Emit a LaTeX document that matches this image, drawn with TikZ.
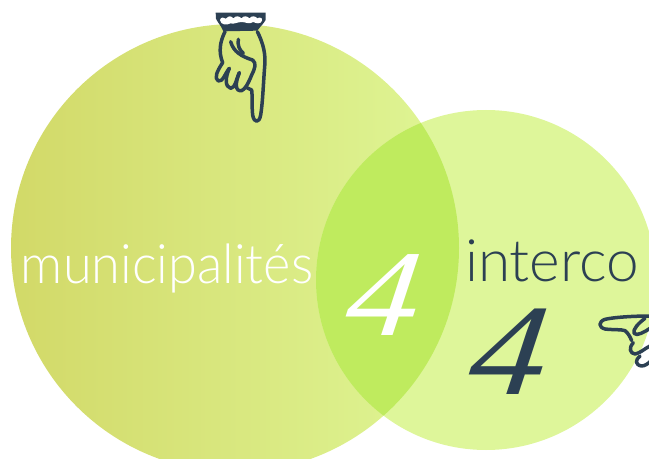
\documentclass[tikz,border=0pt]{standalone}
\usepackage{fontspec}
\setmainfont{Lato}[UprightFont=* Light,ItalicFont=* Light Italic]
\newfontfamily\numfont[FakeStretch=1.18,FakeSlant=0.12]{Liberation Serif}
\newfontfamily\wordfont[FakeStretch=0.96,UprightFont=* Light]{Lato}
\definecolor{bigleft}{HTML}{D2D968}
\definecolor{bigright}{HTML}{DFF696}
\definecolor{smallgreen}{HTML}{DEF69A}
\definecolor{overlapgreen}{HTML}{BFEB5E}
\definecolor{inkblue}{HTML}{2C4053}
\begin{document}
\begin{tikzpicture}[
        x = 0.02cm, y = -0.02cm,
        handline/.style = {inkblue, line width = 0.07cm, line cap = round, line join = round},
        bignum/.style = {anchor = base, font = \fontsize{70}{70}\numfont\itshape}
    ]
        \useasboundingbox (0,0) rectangle (649,459);
        \clip (0,0) rectangle (649,459);

        % circles
        \shade[left color = bigleft, right color = bigright] (235,248) circle[radius = 224];
        \fill[smallgreen] (486,280) circle[radius = 170];
        \begin{scope}
            \clip (235,248) circle[radius = 224];
            \fill[overlapgreen] (486,280) circle[radius = 170];
        \end{scope}

        \node[white, anchor = base, font = \fontsize{31}{31}\wordfont] (municipalites) at (167,283) {municipalités};
        \node[inkblue, anchor = base, font = \fontsize{33.3}{33.3}\selectfont] (interco) at (552,281) {interco};
        \node[white, bignum] (countboth) at (380,335) {4};
        \node[inkblue, bignum, font = \fontsize{74}{74}\numfont\itshape] (countinterco) at (505,394) {4};

        % hand at the top
        \begin{scope}[shift = {(200,0)}, scale = 1/3]
            \fill[inkblue] (47,38) -- (197,38) -- (197,60) .. controls (190,72) and (182,78) .. (172,92) -- (70,94) .. controls (64,78) and (52,66) .. (48,56) -- cycle;
            \fill[white] (60,60) .. controls (62,50) and (72,52) .. (78,56) .. controls (86,46) and (94,48) .. (100,55) .. controls (108,46) and (118,48) .. (124,55) .. controls (132,46) and (142,48) .. (148,55) .. controls (156,46) and (166,48) .. (172,55) .. controls (180,50) and (188,54) .. (186,62) .. controls (182,74) and (168,70) .. (160,66) .. controls (148,74) and (136,66) .. (125,66) .. controls (112,66) and (100,74) .. (92,70) .. controls (80,76) and (62,76) .. (60,60) -- cycle;
            \draw[handline] (75,95) .. controls (60,125) and (55,155) .. (68,188);
            \draw[handline] (68,188) .. controls (50,215) and (42,235) .. (55,243) .. controls (68,248) and (78,215) .. (88,205);
            \draw[handline] (88,205) .. controls (75,235) and (75,260) .. (92,265) .. controls (105,265) and (110,235) .. (118,218);
            \draw[handline] (118,218) .. controls (105,250) and (105,275) .. (125,272) .. controls (135,268) and (145,250) .. (155,225) .. controls (165,205) and (170,190) .. (158,180);
            \draw[handline] (92,125) .. controls (100,155) and (125,170) .. (158,180);
            \draw[handline] (115,118) .. controls (112,135) and (118,150) .. (130,160);
            \draw[handline] (172,95) .. controls (190,130) and (198,165) .. (194,200) .. controls (190,250) and (188,310) .. (182,345) .. controls (178,370) and (162,370) .. (158,345) .. controls (155,320) and (158,295) .. (155,270);
            \draw[handline] (155,270) -- (138,262);
        \end{scope}

        % hand on the right
        \begin{scope}[shift = {(580,300)}, scale = 1/3]
            \draw[handline] (210,48) .. controls (160,48) and (100,52) .. (75,58) .. controls (55,65) and (55,82) .. (75,87) .. controls (100,90) and (125,88) .. (135,92) .. controls (145,100) and (150,110) .. (155,122);
            \draw[handline] (195,55) .. controls (175,70) and (158,88) .. (162,100) .. controls (170,110) and (195,95) .. (210,85);
            \draw[handline] (160,128) .. controls (145,145) and (150,160) .. (165,162) .. controls (180,160) and (195,145) .. (210,138);
            \draw[handline] (180,168) .. controls (165,180) and (165,195) .. (185,198) .. controls (195,198) and (205,190) .. (210,185);
        \end{scope}
    \end{tikzpicture}
\end{document}
